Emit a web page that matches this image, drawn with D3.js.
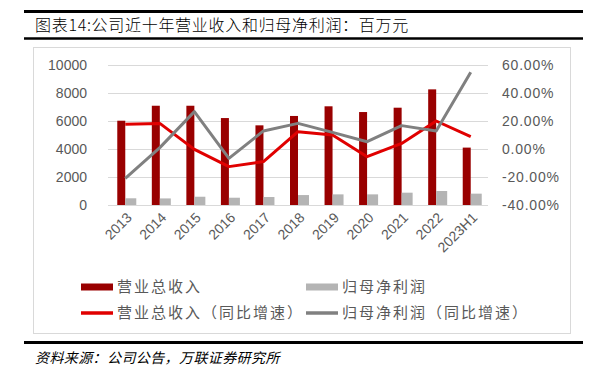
<!DOCTYPE html>
<html>
<head>
<meta charset="utf-8">
<script src="https://cdn.jsdelivr.net/npm/d3@7"></script>
<style>
  body { margin: 0; background: #fff; }
  svg { display: block; }
</style>
</head>
<body>
<div id="chart"></div>
<script>
/* Revenue and net profit, last ten years */

var categories = ['2013', '2014', '2015', '2016', '2017', '2018', '2019', '2020', '2021', '2022', '2023H1'];
var revenue = [6020, 7090, 7090, 6210, 5690, 6360, 7050, 6640, 6950, 8260, 4100];
var profit = [480, 470, 590, 520, 570, 710, 760, 760, 880, 1000, 810];
var revenueYoY = [0.176, 0.183, -0.003, -0.126, -0.09, 0.124, 0.10, -0.055, 0.04, 0.20, 0.088];
var profitYoY = [-0.21, 0.01, 0.267, -0.067, 0.129, 0.183, 0.119, 0.052, 0.167, 0.129, 0.548];
var leftTicks = [0, 2000, 4000, 6000, 8000, 10000];
var rightTicks = [-0.4, -0.2, 0, 0.2, 0.4, 0.6];

var W = 598, H = 372;
var cjk = '"Noto Sans CJK SC", "Noto Sans", sans-serif';
var num = '"Liberation Sans", Arial, sans-serif';
var axisGrey = '#595959';

var svg = d3.select('#chart').append('svg')
  .attr('width', W)
  .attr('height', H);

svg.append('rect').attr('width', W).attr('height', H).attr('fill', '#fff');

// header rules and title
svg.append('line').attr('x1', 24).attr('x2', 583).attr('y1', 11.5).attr('y2', 11.5)
  .attr('stroke', '#000').attr('stroke-width', 3);
svg.append('text').attr('x', 35).attr('y', 25).attr('dy', '0.35em')
  .attr('font-family', cjk).attr('font-size', 16).attr('letter-spacing', 0.7)
  .attr('font-weight', 300).attr('fill', '#000')
  .text('图表14:公司近十年营业收入和归母净利润：百万元');
svg.append('line').attr('x1', 24).attr('x2', 583).attr('y1', 38.5).attr('y2', 38.5)
  .attr('stroke', '#000').attr('stroke-width', 2.5);

// chart frame
svg.append('rect').attr('x', 33.5).attr('y', 47.5).attr('width', 537).attr('height', 286)
  .attr('fill', 'none').attr('stroke', '#d9d9d9');

var x = d3.scaleBand().domain(categories).range([108, 488]);
var yL = d3.scaleLinear().domain([0, 10000]).range([205, 65]);
var yR = d3.scaleLinear().domain([-0.4, 0.6]).range([205, 65]);

// gridlines
svg.append('g').selectAll('line').data(leftTicks).enter().append('line')
  .attr('x1', 108).attr('x2', 488)
  .attr('y1', function(d) { return yL(d) + 0.5; })
  .attr('y2', function(d) { return yL(d) + 0.5; })
  .attr('stroke', '#d9d9d9').attr('stroke-width', 1.2);

// left axis labels
svg.append('g').selectAll('text').data(leftTicks).enter().append('text')
  .attr('x', 87).attr('y', function(d) { return yL(d); }).attr('dy', '0.35em')
  .attr('text-anchor', 'end').attr('font-family', num).attr('font-size', 14)
  .attr('fill', axisGrey)
  .text(function(d) { return d; });

// right axis labels
var pct = d3.format('.2%');
svg.append('g').selectAll('text').data(rightTicks).enter().append('text')
  .attr('x', 502).attr('y', function(d) { return yR(d); }).attr('dy', '0.35em')
  .attr('font-family', num).attr('font-size', 14).attr('letter-spacing', 0.8)
  .attr('fill', axisGrey)
  .text(function(d) { return pct(d).replace('−', '-'); });

// bars
var center = function(d) { return x(d) + x.bandwidth() / 2; };
svg.append('g').selectAll('rect').data(categories).enter().append('rect')
  .attr('x', function(d) { return center(d) - 8; })
  .attr('width', 8)
  .attr('y', function(d, i) { return yL(revenue[i]); })
  .attr('height', function(d, i) { return yL(0) - yL(revenue[i]); })
  .attr('fill', '#990000');
svg.append('g').selectAll('rect').data(categories).enter().append('rect')
  .attr('x', function(d) { return center(d); })
  .attr('width', 11)
  .attr('y', function(d, i) { return yL(profit[i]); })
  .attr('height', function(d, i) { return yL(0) - yL(profit[i]); })
  .attr('fill', '#b4b4b4');

// growth lines
var line = d3.line()
  .x(function(d, i) { return center(categories[i]); })
  .y(function(d) { return yR(d); });
svg.append('path').datum(revenueYoY).attr('d', line)
  .attr('fill', 'none').attr('stroke', '#e00000').attr('stroke-width', 3)
  .attr('stroke-linejoin', 'round');
svg.append('path').datum(profitYoY).attr('d', line)
  .attr('fill', 'none').attr('stroke', '#808080').attr('stroke-width', 3)
  .attr('stroke-linejoin', 'round');

// x labels
svg.append('g').selectAll('text').data(categories).enter().append('text')
  .attr('transform', function(d) {
    return 'translate(' + (center(d) + 4) + ',' + 215 + ') rotate(-45)';
  })
  .attr('dy', '0.35em').attr('text-anchor', 'end')
  .attr('font-family', num).attr('font-size', 14).attr('fill', axisGrey)
  .text(function(d) { return d; });

// legend
var legend = [
  { label: '营业总收入', color: '#990000', type: 'rect', x: 81, y: 287 },
  { label: '归母净利润', color: '#b4b4b4', type: 'rect', x: 306, y: 287 },
  { label: '营业总收入（同比增速）', color: '#e00000', type: 'line', x: 81, y: 313 },
  { label: '归母净利润（同比增速）', color: '#808080', type: 'line', x: 306, y: 313 }
];
var lg = svg.append('g').selectAll('g').data(legend).enter().append('g')
  .attr('transform', function(d) { return 'translate(' + d.x + ',' + d.y + ')'; });
lg.filter(function(d) { return d.type === 'rect'; }).append('rect')
  .attr('x', 0).attr('y', -3.5).attr('width', 32).attr('height', 7)
  .attr('fill', function(d) { return d.color; });
lg.filter(function(d) { return d.type === 'line'; }).append('line')
  .attr('x1', 0).attr('x2', 32).attr('y1', 0).attr('y2', 0)
  .attr('stroke', function(d) { return d.color; }).attr('stroke-width', 3.5);
lg.append('text').attr('x', 36).attr('dy', '0.35em')
  .attr('font-family', cjk).attr('font-size', 15).attr('letter-spacing', 2)
  .attr('fill', axisGrey)
  .text(function(d) { return d.label; });

// footer
svg.append('line').attr('x1', 24).attr('x2', 583).attr('y1', 342.5).attr('y2', 342.5)
  .attr('stroke', '#000').attr('stroke-width', 3);
svg.append('text').attr('x', 35).attr('y', 358).attr('dy', '0.35em')
  .attr('font-family', cjk).attr('font-size', 14).attr('font-style', 'italic')
  .attr('letter-spacing', 0.4).attr('fill', '#000')
  .text('资料来源：公司公告，万联证券研究所');
</script>
</body>
</html>
